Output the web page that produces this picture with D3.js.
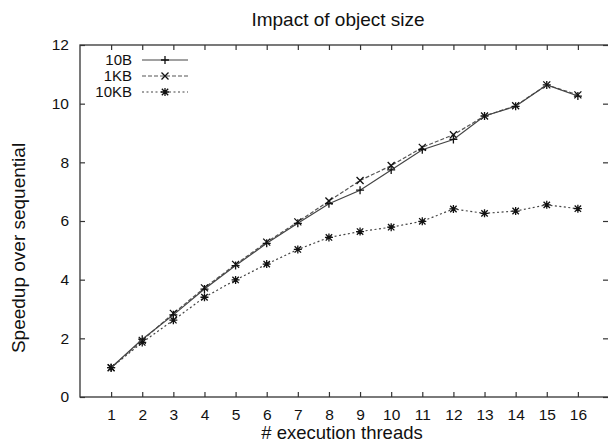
<!DOCTYPE html>
<html><head><meta charset="utf-8">
<script src="https://cdn.jsdelivr.net/npm/d3@7"></script>
<style>body{margin:0;background:#fff}svg{display:block}text{font-family:"Liberation Sans",Arial,sans-serif;fill:#111}</style>
</head><body><svg id="c" width="608" height="445"></svg>
<script>
const threads = [1,2,3,4,5,6,7,8,9,10,11,12,13,14,15,16];
const s10B  = [1.0,1.97,2.80,3.68,4.48,5.24,5.92,6.59,7.05,7.74,8.43,8.78,9.58,9.91,10.64,10.26];
const s1KB  = [1.0,1.93,2.85,3.72,4.52,5.28,5.97,6.68,7.38,7.89,8.51,8.94,9.58,9.93,10.64,10.30];
const s10KB = [1.0,1.86,2.62,3.40,3.99,4.53,5.03,5.44,5.64,5.79,5.99,6.41,6.26,6.34,6.55,6.42];
const xTicks = threads;
const yTicks = [0,2,4,6,8,10,12];
const seriesNames = ["10B","1KB","10KB"];

const svg = d3.select("#c");
const L=80, R=609, T=45, B=397;
const x = d3.scaleLinear().domain([0,17]).range([L,R]);
const y = d3.scaleLinear().domain([0,12]).range([B,T]);
const axisCol="#333";

svg.append("rect").attr("x",L).attr("y",T).attr("width",R-L).attr("height",B-T)
  .attr("fill","none").attr("stroke",axisCol).attr("stroke-width",1.3);

const gx = svg.append("g").attr("transform",`translate(0,${B})`)
  .call(d3.axisBottom(x).tickValues(xTicks).tickSize(-5).tickPadding(12).tickFormat(d3.format("d")));
const gxt = svg.append("g").attr("transform",`translate(0,${T})`)
  .call(d3.axisTop(x).tickValues(xTicks).tickSize(-5).tickFormat(""));
const gy = svg.append("g").attr("transform",`translate(${L},0)`)
  .call(d3.axisLeft(y).tickValues(yTicks).tickSize(-5).tickPadding(11).tickFormat(d3.format("d")));
const gyr = svg.append("g").attr("transform",`translate(${R-1},0)`)
  .call(d3.axisRight(y).tickValues(yTicks).tickSize(-5).tickFormat(""));
[gx,gxt,gy,gyr].forEach(g=>{
  g.select(".domain").remove();
  g.selectAll(".tick line").attr("stroke",axisCol).attr("stroke-width",1.2);
  g.selectAll(".tick text").attr("font-size",15.5).attr("fill","#111")
   .style("font-family","Liberation Sans, Arial, sans-serif");
});
gx.selectAll(".tick text").attr("dy","0.71em");

svg.append("text").attr("x",338).attr("y",26).attr("text-anchor","middle").attr("font-size",19).text("Impact of object size");
svg.append("text").attr("x",342).attr("y",439).attr("text-anchor","middle").attr("font-size",18.5).text("# execution threads");
svg.append("text").attr("transform","translate(25,248) rotate(-90)").attr("text-anchor","middle").attr("font-size",19).text("Speedup over sequential");

const styles = [
  {data:s10B, dash:null, col:"#444", marker:"plus"},
  {data:s1KB, dash:"4,2", col:"#555", marker:"cross"},
  {data:s10KB, dash:"2,2.5", col:"#444", marker:"star"}
];
function marker(g,cx,cy,type,col){
  const s=4;
  const p=d3.path();
  if(type==="plus"||type==="star"){p.moveTo(cx-s,cy);p.lineTo(cx+s,cy);p.moveTo(cx,cy-s);p.lineTo(cx,cy+s);}
  if(type==="cross"||type==="star"){const t=type==="star"?3.2:3.5;p.moveTo(cx-t,cy-t);p.lineTo(cx+t,cy+t);p.moveTo(cx-t,cy+t);p.lineTo(cx+t,cy-t);}
  g.append("path").attr("d",p.toString()).attr("stroke",col).attr("stroke-width",1.3).attr("fill","none");
}
const line = d3.line().x((d,i)=>x(threads[i])).y(d=>y(d));
styles.slice().reverse().forEach(st=>{
  const g=svg.append("g");
  g.append("path").datum(st.data).attr("d",line).attr("fill","none").attr("stroke",st.col)
    .attr("stroke-width",1.2).attr("stroke-dasharray",st.dash);
  st.data.forEach((v,i)=>marker(g,x(threads[i]),y(v),st.marker,"#111"));
});

const legY=[60,76,92];
seriesNames.forEach((n,i)=>{
  const st=styles[i];
  svg.append("text").attr("x",132).attr("y",legY[i]).attr("dy","0.35em").attr("text-anchor","end").attr("font-size",15).text(n);
  svg.append("line").attr("x1",142).attr("x2",188).attr("y1",legY[i]).attr("y2",legY[i])
    .attr("stroke",st.col).attr("stroke-width",1.2).attr("stroke-dasharray",st.dash);
  marker(svg,165,legY[i],st.marker,"#111");
});
</script></body></html>
